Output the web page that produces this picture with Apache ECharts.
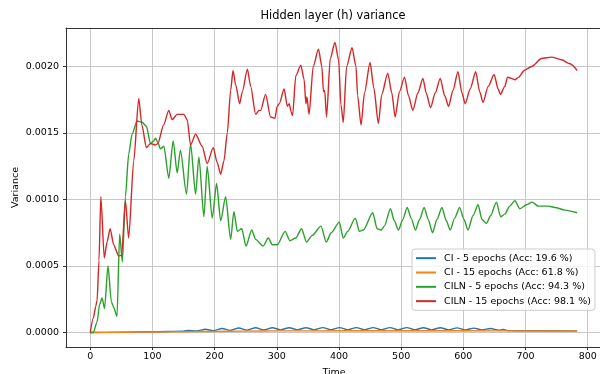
<!DOCTYPE html>
<html>
<head>
<meta charset="utf-8">
<script src="https://cdn.jsdelivr.net/npm/echarts/dist/echarts.min.js"></script>
<style>
html,body{margin:0;padding:0;background:#fff;overflow:hidden;}
#chart{width:600px;height:374px;}
</style>
</head>
<body>
<div id="chart"></div>
<script>
const titleText = 'Hidden layer (h) variance';
const xName = 'Time';
const yName = 'Variance';
const xTicks = [0, 100, 200, 300, 400, 500, 600, 700, 800];
const yTicks = [0, 0.0005, 0.001, 0.0015, 0.002];
const seriesNames = [
  'CI - 5 epochs (Acc: 19.6 %)',
  'CI - 15 epochs (Acc: 61.8 %)',
  'CILN - 5 epochs (Acc: 94.3 %)',
  'CILN - 15 epochs (Acc: 98.1 %)'
];
const seriesColors = ['#1f77b4', '#ff7f0e', '#2ca02c', '#d62728'];

const ci5 = [[0,0],[50,0.000003],[100,0.000006],[150,0.00001],[158,0.000016],[171,0.000012],[185,0.000024],[198,0.000014],[212,0.00003],[225,0.000016],[239,0.000034],[252,0.000018],[266,0.000036],[279,0.000019],[293,0.000036],[306,0.00002],[320,0.000036],[333,0.00002],[347,0.000036],[360,0.00002],[374,0.000037],[387,0.00002],[401,0.000037],[414,0.00002],[428,0.000037],[441,0.00002],[455,0.000037],[468,0.00002],[482,0.000037],[495,0.00002],[509,0.000037],[522,0.00002],[536,0.000036],[549,0.00002],[563,0.000036],[576,0.00002],[590,0.000035],[603,0.00002],[617,0.000033],[630,0.00002],[644,0.00003],[657,0.000018],[664,0.000022],[673,0.000014],[700,0.000013],[783,0.000012]];

const ci15 = [[0,0],[50,0.000002],[100,0.000004],[150,0.000006],[200,0.000008],[250,0.00001],[300,0.000012],[400,0.000013],[500,0.000013],[600,0.000013],[700,0.000012],[783,0.000011]];

const ciln5 = [[0,0],[5,0],[11,0.00008],[15,0.00021],[19,0.00026],[23,0.00018],[28.5,0.0005],[34,0.00023],[37.6,0.00019],[43,0.00012],[47.3,0.00074],[51.6,0.00053],[56.5,0.00102],[61.8,0.00134],[67.2,0.00149],[75.3,0.00159],[83.3,0.00158],[90.3,0.00155],[96.8,0.00142],[102,0.00144],[104.8,0.00146],[108.6,0.00143],[112.9,0.00138],[118.3,0.0014],[126.3,0.00116],[133.3,0.00144],[139.8,0.0012],[145,0.00137],[154.8,0.00104],[161.3,0.00142],[169.4,0.00104],[174.7,0.00132],[182.8,0.00087],[188,0.00125],[196.2,0.00086],[203.2,0.00112],[209.7,0.00084],[217.7,0.00102],[225.8,0.0007],[231,0.00091],[236.6,0.00076],[243.6,0.00078],[250.5,0.00065],[259.7,0.00077],[266,0.0007],[278,0.00065],[286.4,0.00071],[292.8,0.00066],[300.9,0.00066],[313.4,0.00076],[321,0.00069],[330.6,0.00071],[339.8,0.00078],[347.8,0.00068],[357,0.00073],[371,0.0008],[379.6,0.00068],[387.6,0.00075],[400.5,0.00083],[406.9,0.00071],[413.9,0.00076],[426.3,0.00086],[432.8,0.00076],[439,0.00077],[454.3,0.0009],[461.4,0.00078],[467.7,0.00077],[473,0.0008],[482.8,0.00093],[489,0.00084],[495.6,0.00077],[502.7,0.00085],[509.7,0.00094],[516,0.00086],[523,0.00077],[529.6,0.00085],[537,0.00094],[543.5,0.00085],[550.5,0.00075],[557.5,0.00085],[565.6,0.00094],[572.6,0.00084],[579,0.00077],[586,0.00086],[594,0.00094],[601,0.00085],[607.5,0.00077],[615.6,0.00088],[623.7,0.00096],[630,0.00085],[637,0.00082],[644,0.00088],[653.2,0.00098],[660,0.00087],[666.7,0.00089],[674.7,0.00095],[682.8,0.00099],[690.9,0.00093],[701.6,0.00096],[710.7,0.00098],[720.4,0.00095],[736.6,0.00095],[747.3,0.00094],[763.4,0.00092],[783,0.0009]];

const ciln15 = [[0,0],[5,0.00011],[9,0.0002],[11,0.00024],[14,0.00054],[17,0.00102],[22.6,0.00056],[27,0.00068],[32,0.00078],[37.6,0.00066],[45.7,0.000576],[50.5,0.00058],[56.5,0.00099],[61.8,0.00071],[69.9,0.00129],[78,0.00176],[83,0.00156],[90.3,0.00139],[96.8,0.00142],[104.8,0.00141],[108.6,0.00142],[118,0.00156],[126.3,0.00167],[131.7,0.0016],[139.8,0.00164],[150.5,0.00164],[155.9,0.0016],[161.3,0.00141],[169.4,0.00149],[180,0.0014],[188,0.00127],[197.8,0.00139],[204,0.00128],[209.7,0.00119],[215,0.00129],[220.4,0.0015],[225.8,0.00182],[229.6,0.00197],[233.9,0.00186],[240.3,0.00172],[244.6,0.00181],[252.7,0.00198],[258,0.00185],[266,0.00164],[271.5,0.00167],[274,0.00167],[282,0.00179],[290,0.00162],[297,0.00161],[300.5,0.0017],[304,0.00172],[311.8,0.00183],[317,0.0017],[320,0.00172],[323,0.00166],[325.3,0.00163],[330.6,0.00193],[338.7,0.00201],[344,0.0019],[346.8,0.00172],[348.4,0.00177],[351.9,0.00164],[358.6,0.002],[367,0.00213],[372.5,0.002],[375,0.00181],[377,0.00182],[380,0.00162],[386,0.00206],[393.5,0.00218],[399.4,0.00205],[403.2,0.00171],[406.9,0.00158],[412.3,0.002],[421,0.00214],[427.4,0.002],[430,0.00178],[435.5,0.00156],[441,0.0018],[450,0.00203],[456,0.00184],[463.4,0.00157],[468.8,0.00179],[478.5,0.00195],[485,0.0018],[490.3,0.00162],[497.3,0.00181],[505.4,0.00192],[511.8,0.00178],[518.8,0.00167],[526.9,0.0018],[535,0.00191],[540.3,0.0018],[547.3,0.00169],[554.8,0.0018],[562.9,0.00191],[570,0.00178],[576.3,0.0017],[583.3,0.00182],[591.4,0.00196],[597.8,0.0018],[603,0.00172],[611,0.00183],[619.9,0.00196],[626.3,0.00181],[631.7,0.00173],[640,0.00185],[649.5,0.00194],[656,0.00183],[659.7,0.00179],[666.7,0.00185],[671,0.00192],[677.4,0.00191],[683,0.0019],[689,0.00192],[697.8,0.00197],[710,0.002],[725.8,0.00206],[741.9,0.00207],[758,0.00205],[771.5,0.00202],[783,0.00197]];

const seriesData = [ci5, ci15, ciln5, ciln15];

const FONT = 'DejaVu Sans';
const SPINE = '#333';
const chart = echarts.init(document.getElementById('chart'), null, {renderer: 'canvas'});
chart.setOption({
  animation: false,
  backgroundColor: '#ffffff',
  title: {
    text: titleText,
    left: 333, top: 11, padding: 0,
    textAlign: 'center',
    textStyle: {fontFamily: FONT, fontSize: 11.4, fontWeight: 'normal', color: '#000'}
  },
  grid: {
    left: 66, width: 536, top: 28, height: 319,
    containLabel: false, outerBoundsMode: 'none',
    show: false
  },
  legend: {
    orient: 'vertical',
    left: 412, top: 249,
    padding: [2, 4, 2, 4],
    itemGap: 0,
    itemWidth: 20, itemHeight: 2,
    icon: 'rect',
    backgroundColor: 'rgba(255,255,255,0.8)',
    borderColor: '#cccccc', borderWidth: 1, borderRadius: 3,
    textStyle: {fontFamily: FONT, fontSize: 9.5, color: '#000', lineHeight: 14.33, padding: [0, 0, 0, 3]},
    data: seriesNames
  },
  xAxis: [{
    type: 'value', min: -39, max: 823, position: 'bottom',
    name: xName, nameLocation: 'middle', nameGap: 21, nameMoveOverlap: false,
    nameTextStyle: {fontFamily: FONT, fontSize: 9.5, color: '#000'},
    axisLine: {show: true, onZero: false, lineStyle: {color: SPINE, width: 1}},
    axisTick: {show: true, length: 3, customValues: xTicks, lineStyle: {color: SPINE}},
    axisLabel: {customValues: xTicks, margin: 5, fontFamily: FONT, fontSize: 9.5, color: '#000'},
    splitLine: {show: true, lineStyle: {color: '#c8c8c8', width: 1}}
  }, {
    type: 'value', min: -39, max: 823, position: 'top',
    axisLine: {show: true, onZero: false, lineStyle: {color: SPINE, width: 1}},
    axisTick: {show: false}, axisLabel: {show: false}, splitLine: {show: false}
  }],
  yAxis: {
    type: 'value', min: -0.000109, max: 0.002289,
    name: yName, nameLocation: 'middle', nameGap: 45, nameRotate: 90, nameMoveOverlap: false,
    nameTextStyle: {fontFamily: FONT, fontSize: 9.5, color: '#000'},
    axisLine: {show: true, onZero: false, lineStyle: {color: SPINE, width: 1}},
    axisTick: {show: true, length: 3, customValues: yTicks, lineStyle: {color: SPINE}},
    axisLabel: {customValues: yTicks, margin: 7, fontFamily: FONT, fontSize: 9.5, color: '#000',
      formatter: v => v.toFixed(4)},
    splitLine: {show: true, lineStyle: {color: '#c8c8c8', width: 1}}
  },
  series: seriesNames.map((n, i) => ({
    name: n, type: 'line', data: seriesData[i], xAxisIndex: 0,
    showSymbol: false, smooth: 0.25, smoothMonotone: 'x',
    lineStyle: {color: seriesColors[i], width: 1.4},
    itemStyle: {color: seriesColors[i]},
    z: 2 + i
  }))
});
</script>
</body>
</html>
